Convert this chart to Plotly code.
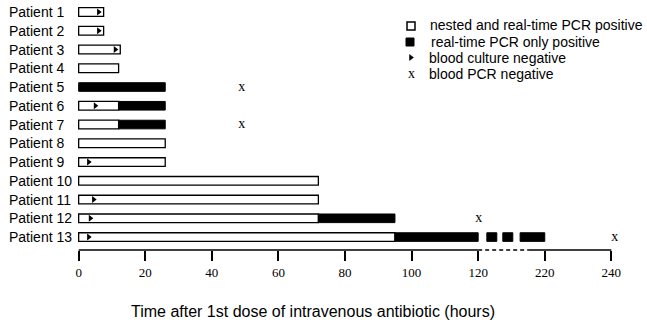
import plotly.graph_objects as go

# ---------------- data (hours after 1st dose) ----------------
patients = [f"Patient {i}" for i in range(1, 14)]
# nested & real-time PCR positive (white) interval end, start is 0
white_end = [7.5, 7.5, 12.5, 12, 0, 12, 12, 26, 26, 72, 72, 72, 95]
# real-time PCR only positive (black) segments
black_patient = [5, 6, 7, 12, 13, 13, 13, 13]
black_start = [0, 12, 12, 72, 95, 133, 157, 183]
black_end = [26, 26, 26, 95, 120, 148, 172, 220]
# blood culture negative (triangle)
tri_patient = [1, 2, 3, 6, 9, 11, 12, 13]
tri_hour = [6, 6, 11, 5, 3, 4.5, 3.5, 3]
# blood PCR negative (x)
x_patient = [5, 7, 12, 13]
x_hour = [49, 49, 121, 241]
# axis ticks (hours)
tick_hours = [0, 20, 40, 60, 80, 100, 120, 220, 240]
tick_labels = ["0", "20", "40", "60", "80", "100", "120", "220", "240"]


def disp(t):
    """broken time axis: 0-120 linear, 120-220 compressed, 220-240 linear"""
    if t <= 120:
        return t
    if t <= 220:
        return 120 + (t - 120) * 0.2
    return 140 + (t - 220)


W, H = 647, 324
L, R, T, B = 72, 29, 0, 74
PW = W - L - R
PH = H - T - B


def px(x):
    return (x - L) / PW


def py(y):
    return (H - B - y) / PH


fig = go.Figure()

SANS = "Arial, Liberation Sans, sans-serif"
SERIF = "Times New Roman, Liberation Serif, serif"
BW = 0.46

# white bars
wp = [i + 1 for i, e in enumerate(white_end) if e > 0]
we = [disp(e) for e in white_end if e > 0]
fig.add_trace(go.Bar(
    y=wp, x=we, base=[0] * len(we), orientation="h", width=BW,
    marker=dict(color="white", line=dict(color="black", width=1.3)),
    showlegend=False, hoverinfo="skip"))

# black bars
bs = [disp(s) for s in black_start]
bl = [disp(e) - disp(s) for s, e in zip(black_start, black_end)]
fig.add_trace(go.Bar(
    y=black_patient, x=bl, base=bs, orientation="h", width=BW,
    marker=dict(color="black", line=dict(color="black", width=1)),
    showlegend=False, hoverinfo="skip"))

# triangles
fig.add_trace(go.Scatter(
    y=tri_patient, x=[disp(t) for t in tri_hour], mode="markers",
    marker=dict(symbol="triangle-right", size=6, color="black"),
    showlegend=False, hoverinfo="skip"))

# x marks
fig.add_trace(go.Scatter(
    y=x_patient, x=[disp(t) for t in x_hour], mode="text", text=["x"] * len(x_hour),
    textfont=dict(family=SERIF, size=14, color="black"),
    showlegend=False, hoverinfo="skip"))

fig.update_layout(
    width=W, height=H, margin=dict(l=L, r=R, t=T, b=B),
    plot_bgcolor="white", paper_bgcolor="white", barmode="overlay",
    xaxis=dict(range=[-2, 162], tickvals=[disp(t) for t in tick_hours], ticktext=tick_labels,
               ticks="outside", ticklen=10, tickwidth=1.5, tickcolor="black",
               showgrid=False, zeroline=False, showline=False,
               tickfont=dict(family=SERIF, size=13, color="black")),
    yaxis=dict(range=[13.69, 0.36], visible=False),
)

# axis line with dashed break
shapes = [
    dict(type="line", xref="x", yref="paper", x0=0, x1=120, y0=0, y1=0, line=dict(color="black", width=1.5)),
    dict(type="line", xref="x", yref="paper", x0=120, x1=135, y0=0, y1=0,
         line=dict(color="black", width=1.5, dash="4px,3px")),
    dict(type="line", xref="x", yref="paper", x0=135, x1=160, y0=0, y1=0, line=dict(color="black", width=1.5)),
    # legend symbols
    dict(type="rect", xref="paper", yref="paper", x0=px(407), x1=px(415), y0=py(30), y1=py(22),
         line=dict(color="black", width=1.5), fillcolor="white"),
    dict(type="rect", xref="paper", yref="paper", x0=px(406), x1=px(414), y0=py(46), y1=py(38),
         line=dict(color="black", width=1), fillcolor="black"),
    dict(type="path", xref="paper", yref="paper",
         path=f"M {px(409.5)},{py(54.5)} L {px(409.5)},{py(60.5)} L {px(413.5)},{py(57.5)} Z",
         line=dict(color="black", width=0.5), fillcolor="black"),
]
fig.update_layout(shapes=shapes)

annotations = []
for i, name in enumerate(patients):
    annotations.append(dict(text=name, xref="paper", yref="y", x=px(7), y=i + 1,
                            xanchor="left", yanchor="middle", showarrow=False,
                            font=dict(family=SANS, size=14, color="black")))

legend_items = [("nested and real-time PCR positive", 428, 25),
                ("real-time PCR only positive", 429, 42),
                ("blood culture negative", 426.5, 58),
                ("blood PCR negative", 426.5, 74)]
for txt, lx, ly in legend_items:
    annotations.append(dict(text=txt, xref="paper", yref="paper", x=px(lx), y=py(ly),
                            xanchor="left", yanchor="middle", showarrow=False,
                            font=dict(family=SANS, size=14, color="black")))
annotations.append(dict(text="x", xref="paper", yref="paper", x=px(411.5), y=py(73),
                        xanchor="center", yanchor="middle", showarrow=False,
                        font=dict(family=SERIF, size=14, color="black")))
annotations.append(dict(text="Time after 1st dose of intravenous antibiotic (hours)",
                        xref="paper", yref="paper", x=px(313), y=py(311),
                        xanchor="center", yanchor="middle", showarrow=False,
                        font=dict(family=SANS, size=16, color="black")))
fig.update_layout(annotations=annotations)

fig.write_html("out.html", config={"displayModeBar": False},
               post_script="document.body.style.margin='0';document.body.style.overflow='hidden';")
